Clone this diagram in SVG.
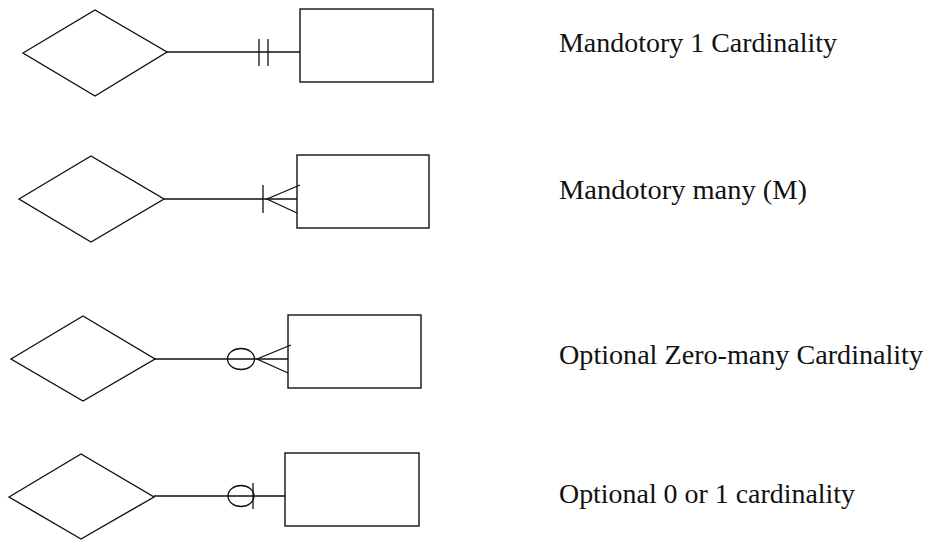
<svg xmlns="http://www.w3.org/2000/svg" width="930" height="542" viewBox="0 0 930 542">
  <style>
    .shape { fill: none; stroke: #111; stroke-width: 1.4; }
    .conn { fill: none; stroke: #111; stroke-width: 1.3; }
    .label { font-family: "Liberation Serif", "Times New Roman", serif; font-size: 27px; fill: #111; }
  </style>
  <rect width="930" height="542" fill="#fff"/>

  <!-- Row 1: mandatory one -->
  <g id="rel1"><polygon class="shape" points="23,53 95,10 167,52 95,96"/></g>
  <g id="ent1"><rect class="shape" x="300" y="9" width="133" height="73"/></g>
  <g id="lbl1"><text class="label" x="559" y="52" textLength="278" lengthAdjust="spacingAndGlyphs">Mandotory 1 Cardinality</text></g>

  <!-- Row 2: mandatory many -->
  <g id="rel2"><polygon class="shape" points="19,199 91,156 164,199 91,242"/></g>
  <g id="ent2"><rect class="shape" x="297" y="155" width="132" height="73"/></g>
  <g id="lbl2"><text class="label" x="559" y="199" textLength="248" lengthAdjust="spacingAndGlyphs">Mandotory many (M)</text></g>

  <!-- Row 3: optional zero-many -->
  <g id="rel3"><polygon class="shape" points="11,359 83,316 155,359 83,401"/></g>
  <g id="ent3"><rect class="shape" x="288" y="315" width="133" height="73"/></g>
  <g id="lbl3"><text class="label" x="559" y="364" textLength="364" lengthAdjust="spacingAndGlyphs">Optional Zero-many Cardinality</text></g>

  <!-- Row 4: optional zero or one -->
  <g id="rel4"><polygon class="shape" points="9,497 81,454 154,497 81,539"/></g>
  <g id="ent4"><rect class="shape" x="285" y="453" width="134" height="73"/></g>
  <g id="lbl4"><text class="label" x="559" y="503" textLength="296" lengthAdjust="spacingAndGlyphs">Optional 0 or 1 cardinality</text></g>

  <g id="connectors">
    <!-- 1 : || -->
    <line class="conn" x1="167" y1="52" x2="300" y2="52"/>
    <line class="conn" x1="259" y1="39" x2="259" y2="66"/>
    <line class="conn" x1="268" y1="39" x2="268" y2="66"/>

    <!-- 2 : |< -->
    <line class="conn" x1="164" y1="199" x2="297" y2="199"/>
    <line class="conn" x1="263" y1="185" x2="263" y2="213"/>
    <polyline class="conn" points="300,185 267,199 297,213"/>

    <!-- 3 : o< -->
    <line class="conn" x1="155" y1="359" x2="288" y2="359"/>
    <ellipse class="conn" cx="241" cy="359" rx="13.5" ry="10.5"/>
    <polyline class="conn" points="291,345 257,359 288,373"/>

    <!-- 4 : o| -->
    <line class="conn" x1="154" y1="496" x2="285" y2="496"/>
    <ellipse class="conn" cx="241" cy="496" rx="13" ry="10.5"/>
    <line class="conn" x1="253" y1="483" x2="253" y2="509"/>
  </g>
</svg>
